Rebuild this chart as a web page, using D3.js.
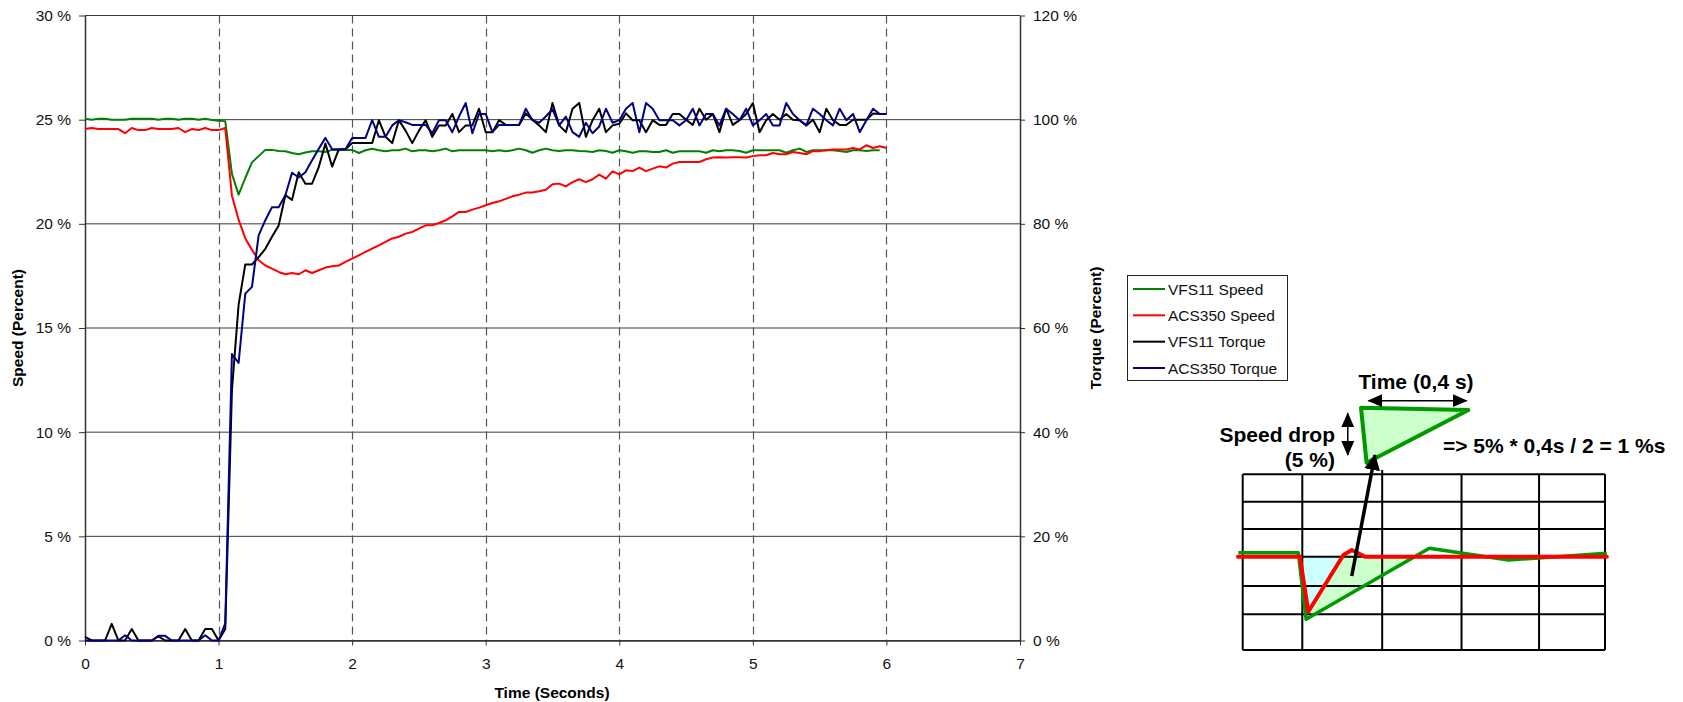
<!DOCTYPE html>
<html><head><meta charset="utf-8">
<script src="https://cdn.jsdelivr.net/npm/d3@7"></script>
<style>
body{margin:0;background:#fff;}
svg{display:block;font-family:"Liberation Sans",Arial,sans-serif;}
</style>
</head><body>
<svg id="chart" width="1683" height="702"></svg>
<script>
// ---------------- DATA ----------------
const sampleStep = 0.05; // seconds between samples
const xTicks = [0, 1, 2, 3, 4, 5, 6, 7];
const dashedTicks = [1, 2, 3, 4, 5, 6];
const speedTicks = [0, 5, 10, 15, 20, 25, 30];
const torqueTicks = [0, 20, 40, 60, 80, 100, 120];
const seriesNames = ["VFS11 Speed", "ACS350 Speed", "VFS11 Torque", "ACS350 Torque"];
const seriesColors = ["#008000", "#ff0000", "#000000", "#000080"];

const vfs11Speed = [25.05,25.0,25.05,25.05,25.0,25.0,25.0,25.05,25.05,25.05,25.05,25.0,25.05,25.05,25.0,25.05,25.05,25.0,25.05,24.98,24.95,24.93,
 22.4,21.4,22.2,22.95,23.25,23.55,23.55,23.5,23.48,23.4,23.34,23.42,23.48,23.48,23.45,23.55,23.53,23.55,23.55,23.4,23.53,23.6,23.53,23.48,23.53,
 23.53,23.61,23.48,23.53,23.53,23.48,23.53,23.61,23.48,23.53,23.53,23.53,23.53,23.53,23.48,23.53,23.48,23.53,23.61,23.53,23.41,23.53,23.61,23.53,
 23.5,23.53,23.53,23.5,23.48,23.45,23.53,23.5,23.41,23.53,23.48,23.41,23.48,23.48,23.45,23.45,23.53,23.41,23.48,23.48,23.48,23.48,23.41,23.53,
 23.48,23.53,23.53,23.5,23.41,23.53,23.53,23.53,23.53,23.53,23.41,23.53,23.61,23.45,23.53,23.53,23.53,23.53,23.5,23.45,23.53,23.53,23.5,23.53,23.53];

const acs350Speed = [24.55,24.6,24.55,24.55,24.55,24.55,24.35,24.6,24.5,24.5,24.6,24.55,24.55,24.55,24.6,24.4,24.55,24.5,24.6,24.5,24.5,24.6,
 21.35,20.2,19.3,18.75,18.25,18.0,17.85,17.69,17.58,17.64,
 17.58,17.77,17.64,17.77,17.9,17.96,18.0,18.17,18.33,18.49,
 18.65,18.81,18.97,19.13,19.3,19.38,19.53,19.61,19.77,19.93,
 19.93,20.04,20.17,20.36,20.57,20.57,20.68,20.78,20.89,21.0,
 21.08,21.2,21.32,21.4,21.5,21.5,21.56,21.64,21.9,21.93,
 21.8,22.0,22.14,22.0,22.14,22.36,22.17,22.52,22.37,22.57,
 22.53,22.7,22.53,22.65,22.76,22.7,22.89,22.97,22.97,22.97,
 22.97,23.1,23.18,23.2,23.18,23.2,23.2,23.18,23.25,23.29,
 23.29,23.4,23.34,23.34,23.45,23.4,23.34,23.49,23.49,23.53,
 23.57,23.57,23.57,23.64,23.57,23.77,23.64,23.72,23.64];

const vfs11Torque = [0.7,0,0,0,3.2,0,0,2.2,0,0,0,0.8,0,0,0,2.2,0,0,2.2,2.2,0,2.2,
 48,64.5,72.2,72.2,73.6,75.2,77.5,79.7,85.5,84.6,89.9,87.7,87.7,90.9,95.4,91.0,94.3,94.3,95.5,95.5,95.5,95.5,99.9,96.7,95.5,99.9,
 97.9,95.5,97.9,99.9,96.7,98.9,98.9,101.1,97.6,98.9,98.9,102.1,97.6,97.6,99.9,99.0,99.0,99.0,101.2,100.0,98.9,97.6,103.2,98.9,97.6,102.1,
 103.2,96.7,99.9,102.1,97.6,98.9,99.2,101.2,99.9,99.9,97.6,99.9,99.0,99.0,101.1,101.1,100.0,99.0,102.1,100.0,101.1,97.6,102.1,99.0,
 99.9,101.1,103.2,97.6,99.9,101.1,100.0,101.1,100.0,99.9,98.9,100.0,97.6,102.1,99.9,99.0,99.0,100.0,100.0,100.0,101.2,101.1,101.1];

const acs350Torque = [0,0,0,0,0,0,1.0,0,0,0,0,0.9,0.9,0,0,0,0,0,1.0,0,0,3.3,
 55,53.3,66.6,67.9,77.8,80.7,83.2,83.2,85.5,89.8,88.9,89.9,92.2,94.4,96.5,94.3,94.3,94.3,96.5,96.5,96.5,99.9,96.7,96.7,98.9,99.9,
 99.5,99.0,99.0,99.0,97.4,99.9,99.9,97.6,100.6,103.2,97.4,101.1,101.1,97.6,99.0,99.0,99.0,99.0,102.1,99.9,99.4,100.6,102.0,98.9,100.6,
 97.6,96.7,99.4,97.4,98.7,102.1,99.4,99.9,102.1,103.2,97.6,103.2,102.1,99.9,99.9,99.9,98.9,99.9,102.1,98.9,101.1,101.1,98.9,102.1,101.1,
 99.9,102.1,98.9,99.9,101.1,98.9,98.9,103.2,101.1,99.9,98.9,102.1,101.1,99.9,98.9,102.1,99.9,101.1,97.6,99.9,102.1,101.1,101.1];

// Inset sketch (speed-drop illustration), in percent of the inset box
const insetCols = [0, 16.45, 38.5, 60.4, 81.8, 100];
const insetRows = [0, 15.6, 31.1, 46.9, 63.6, 79.7, 100];
const insetGreen = [[-1.2,44.6],[15.35,44.6],[17.5,82.5],[51.5,42.1],[73.3,48.8],[100.5,45.0]];
const insetRed = [[-1.3,46.9],[15.8,46.9],[18.1,78.2],[27.8,45.9],[30.1,43.1],[33.8,46.9],[100.5,46.9]];
const insetGreenArea = [[16.45,46.3],[17.5,82.5],[47.1,46.3]];
const insetCyanArea = [[16.45,46.3],[18.1,78.2],[26.9,46.3]];
const dropTriangle = [[32.65,-37.9],[62.3,-36.6],[34.2,-6.6]];
const timeArrow = [[34.7,-41.9],[61.8,-41.9]];
const dropArrow = [[29.0,-34.7],[29.0,-11.0]];
const pointerArrow = [[30.1,57.9],[36.5,-11.0]];

// ---------------- CHART ----------------
const svg = d3.select("#chart");
const x = d3.scaleLinear().domain([0, 7]).range([85, 1020]);
const yS = d3.scaleLinear().domain([0, 30]).range([640.5, 15.5]);
const yT = d3.scaleLinear().domain([0, 120]).range([640.5, 15.5]);
const FS = "15.5px";

svg.append("rect").attr("width", 1683).attr("height", 702).attr("fill", "#fff");

// horizontal gridlines
svg.append("g").selectAll("line").data(speedTicks).join("line")
  .attr("x1", x(0)).attr("x2", x(7))
  .attr("y1", d => yS(d)).attr("y2", d => yS(d))
  .attr("stroke", "#3a3a3a").attr("stroke-width", 1);

// vertical dashed gridlines
svg.append("g").selectAll("line").data(dashedTicks).join("line")
  .attr("x1", d => Math.round(x(d)) + 0.5).attr("x2", d => Math.round(x(d)) + 0.5)
  .attr("y1", yS(30)).attr("y2", yS(0))
  .attr("stroke", "#555").attr("stroke-width", 1.2).attr("stroke-dasharray", "8,5");

// axes
function styleAxis(g) {
  g.select(".domain").attr("stroke", "#333").attr("stroke-width", 1.5);
  g.selectAll(".tick line").attr("stroke", "#333");
  g.selectAll(".tick text").attr("fill", "#111").style("font-size", FS)
    .style("font-family", '"Liberation Sans",Arial,sans-serif');
}
svg.append("g").attr("transform", `translate(${x(0)},0)`)
  .call(d3.axisLeft(yS).tickValues(speedTicks).tickFormat(d => d + " %").tickSize(6).tickPadding(8).tickSizeOuter(0))
  .call(styleAxis);
svg.append("g").attr("transform", `translate(${x(7)},0)`)
  .call(d3.axisRight(yT).tickValues(torqueTicks).tickFormat(d => d + " %").tickSize(5).tickPadding(8).tickSizeOuter(0))
  .call(styleAxis);
svg.append("g").attr("transform", `translate(0,${yS(0)})`)
  .call(d3.axisBottom(x).tickValues(xTicks).tickFormat(d3.format("d")).tickSize(5).tickPadding(12).tickSizeOuter(0))
  .call(styleAxis);

// axis titles
svg.append("text").attr("transform", `translate(23,328) rotate(-90)`)
  .attr("text-anchor", "middle").attr("font-weight", "bold").style("font-size", FS).text("Speed (Percent)");
svg.append("text").attr("transform", `translate(1101,328) rotate(-90)`)
  .attr("text-anchor", "middle").attr("font-weight", "bold").style("font-size", FS).text("Torque (Percent)");
svg.append("text").attr("x", 552).attr("y", 698)
  .attr("text-anchor", "middle").attr("font-weight", "bold").style("font-size", FS).text("Time (Seconds)");

// series lines
const speedLine = d3.line().x((d, i) => x(i * sampleStep)).y(d => yS(d));
const torqueLine = d3.line().x((d, i) => x(i * sampleStep)).y(d => yT(d));
const lines = svg.append("g").attr("fill", "none").attr("stroke-width", 2).attr("stroke-linejoin", "round");
lines.append("path").attr("d", speedLine(vfs11Speed)).attr("stroke", seriesColors[0]);
lines.append("path").attr("d", speedLine(acs350Speed)).attr("stroke", seriesColors[1]);
lines.append("path").attr("d", torqueLine(vfs11Torque)).attr("stroke", seriesColors[2]);
lines.append("path").attr("d", torqueLine(acs350Torque)).attr("stroke", seriesColors[3]);

// legend
const lg = svg.append("g");
lg.append("rect").attr("x", 1127.5).attr("y", 275.5).attr("width", 160).attr("height", 105)
  .attr("fill", "#fff").attr("stroke", "#222").attr("stroke-width", 1);
const ly = d3.scalePoint().domain(seriesNames).range([289, 368]);
seriesNames.forEach((n, i) => {
  lg.append("line").attr("x1", 1133).attr("x2", 1165).attr("y1", ly(n)).attr("y2", ly(n))
    .attr("stroke", seriesColors[i]).attr("stroke-width", 2);
  lg.append("text").attr("x", 1168).attr("y", ly(n) + 5.5).style("font-size", FS).attr("fill", "#111").text(n);
});

// ---------------- INSET SKETCH ----------------
const inX = d3.scaleLinear().domain([0, 100]).range([1242.7, 1605]);
const inY = d3.scaleLinear().domain([0, 100]).range([474.3, 650]);
const pt = d => [inX(d[0]), inY(d[1])];
const ins = svg.append("g");
const defs = svg.append("defs");
defs.append("marker").attr("id", "ah").attr("viewBox", "0 0 15 13")
  .attr("markerWidth", 15).attr("markerHeight", 13).attr("refX", 14).attr("refY", 6.5)
  .attr("markerUnits", "userSpaceOnUse").attr("orient", "auto-start-reverse")
  .append("path").attr("d", "M0,0L15,6.5L0,13Z").attr("fill", "#000");
defs.append("marker").attr("id", "ahBig").attr("viewBox", "0 0 16 16")
  .attr("markerWidth", 16).attr("markerHeight", 16).attr("refX", 15).attr("refY", 8)
  .attr("markerUnits", "userSpaceOnUse").attr("orient", "auto")
  .append("path").attr("d", "M0,0L16,8L0,16Z").attr("fill", "#000");

ins.append("path").attr("d", d3.line()(insetGreenArea.map(pt)) + "Z").attr("fill", "#ccffcc");
ins.append("path").attr("d", d3.line()(insetCyanArea.map(pt)) + "Z").attr("fill", "#ccffff");
ins.append("g").selectAll("line").data(insetCols).join("line")
  .attr("x1", d => inX(d)).attr("x2", d => inX(d))
  .attr("y1", (d, i) => inY(i === 2 ? -2.5 : 0)).attr("y2", inY(100))
  .attr("stroke", "#000").attr("stroke-width", 2);
ins.append("g").selectAll("line").data(insetRows).join("line")
  .attr("x1", inX(0)).attr("x2", inX(100))
  .attr("y1", d => inY(d)).attr("y2", d => inY(d))
  .attr("stroke", "#000").attr("stroke-width", 2);
ins.append("path").attr("d", d3.line()(insetGreen.map(pt))).attr("fill", "none")
  .attr("stroke", "#009900").attr("stroke-width", 3.5).attr("stroke-linejoin", "round");
ins.append("path").attr("d", d3.line()(insetRed.map(pt))).attr("fill", "none")
  .attr("stroke", "#ff0000").attr("stroke-width", 4).attr("stroke-linejoin", "round").attr("stroke-linecap", "round");
ins.append("path").attr("d", d3.line()(dropTriangle.map(pt)) + "Z").attr("fill", "#ccffcc")
  .attr("stroke", "#009900").attr("stroke-width", 4).attr("stroke-linejoin", "round");
ins.append("path").attr("d", d3.line()(timeArrow.map(pt))).attr("stroke", "#000").attr("stroke-width", 1.5)
  .attr("marker-start", "url(#ah)").attr("marker-end", "url(#ah)");
ins.append("path").attr("d", d3.line()(dropArrow.map(pt))).attr("stroke", "#000").attr("stroke-width", 1.5)
  .attr("marker-start", "url(#ah)").attr("marker-end", "url(#ah)");
ins.append("path").attr("d", d3.line()(pointerArrow.map(pt))).attr("stroke", "#000").attr("stroke-width", 3.5)
  .attr("marker-end", "url(#ahBig)");

const AF = "21px";
ins.append("text").attr("x", 1416).attr("y", 389).attr("text-anchor", "middle")
  .attr("font-weight", "bold").style("font-size", AF).text("Time (0,4 s)");
ins.append("text").attr("x", 1335).attr("y", 442).attr("text-anchor", "end")
  .attr("font-weight", "bold").style("font-size", AF).text("Speed drop");
ins.append("text").attr("x", 1335).attr("y", 467).attr("text-anchor", "end")
  .attr("font-weight", "bold").style("font-size", AF).text("(5 %)");
ins.append("text").attr("x", 1443).attr("y", 453).attr("text-anchor", "start")
  .attr("font-weight", "bold").style("font-size", AF).text("=> 5% * 0,4s / 2 = 1 %s");
</script>
</body></html>
